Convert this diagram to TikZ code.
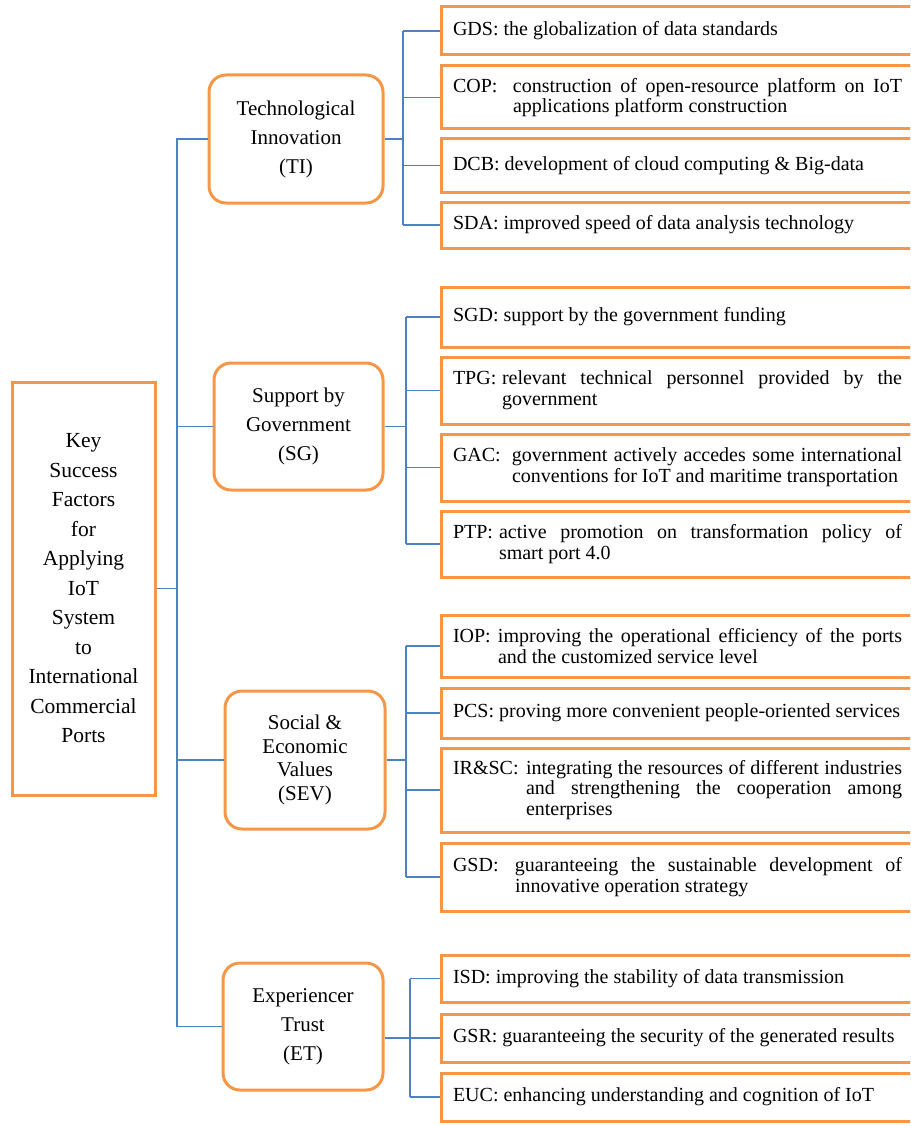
\documentclass[tikz,border=0pt]{standalone}
\usepackage{fontspec}
\setmainfont{Liberation Serif}
\usepackage{tikz}
\tolerance=10000
\hbadness=10000
\hyphenpenalty=10000
\exhyphenpenalty=10000

\definecolor{boxorange}{HTML}{F79646}
\definecolor{linkblue}{HTML}{4F81BD}

\tikzset{
  rootbox/.style={draw=boxorange, line width=3pt, align=center,
    font=\fontsize{21.5}{29.5}\selectfont},
  groupbox/.style={draw=boxorange, line width=3pt, rounded corners=17pt,
    align=center, font=\fontsize{21}{29}\selectfont},
  leafbox/.style={draw=boxorange, line width=3pt, anchor=west,
    text width=449pt, inner xsep=11.5pt, inner ysep=0pt, align=justify,
    font=\fontsize{20}{20.7}\selectfont},
  link/.style={draw=linkblue, line width=1.2pt}
}

% label with hanging indent for the wrapped lines
\newcommand{\kfhang}[3]{\hangindent=#2\hangafter=1\noindent\makebox[#2][l]{#1:}#3\par}

\begin{document}
\begin{tikzpicture}[x=1pt,y=-1pt]
\useasboundingbox (0,0) rectangle (910,1126);
\clip (0,0) rectangle (910,1126);

\node[rootbox, minimum width=143pt, minimum height=413pt] (KSF) at (83.5,588.5)
  {Key\\Success\\Factors\\for\\Applying\\IoT\\System\\to\\International\\Commercial\\Ports};

\node[groupbox, minimum width=174pt, minimum height=128pt] (TI) at (296,139) {Technological\\Innovation\\(TI)};
\node[groupbox, minimum width=169pt, minimum height=127pt] (SG) at (298.5,426.5) {Support by\\Government\\(SG)};
\node[groupbox, minimum width=160pt, minimum height=138pt, font=\fontsize{21}{23.5}\selectfont] (SEV) at (305,760) {Social \&\\Economic\\Values\\(SEV)};
\node[groupbox, minimum width=160pt, minimum height=127pt] (ET) at (303,1026.5) {Experiencer\\Trust\\(ET)};

% TI
\node[leafbox, minimum height=48pt] (GDS) at (440,31) {GDS: the globalization of data standards};
\node[leafbox, minimum height=63pt] (COP) at (440,97.5) {\kfhang{COP}{60pt}{construction of open-resource platform on IoT\linebreak applications platform construction}};
\node[leafbox, minimum height=53pt] (DCB) at (440,165.5) {DCB: development of cloud computing \& Big-data};
\node[leafbox, minimum height=46pt] (SDA) at (440,225) {SDA: improved speed of data analysis technology};
% SG
\node[leafbox, minimum height=60pt] (SGD) at (440,317) {SGD: support by the government funding};
\node[leafbox, minimum height=67pt] (TPG) at (440,390.5) {\kfhang{TPG}{49pt}{relevant technical personnel provided by the\linebreak government}};
\node[leafbox, minimum height=67pt] (GAC) at (440,467.5) {\kfhang{GAC}{59pt}{government actively accedes some international\linebreak conventions for IoT and maritime transportation}};
\node[leafbox, minimum height=66pt] (PTP) at (440,544) {\kfhang{PTP}{46pt}{active promotion on transformation policy of\linebreak smart port 4.0}};
% SEV
\node[leafbox, minimum height=62pt] (IOP) at (440,646) {\kfhang{IOP}{45pt}{improving the operational efficiency of the ports\linebreak and the customized service level}};
\node[leafbox, minimum height=50pt] (PCS) at (440,713) {PCS: proving more convenient people-oriented services};
\node[leafbox, minimum height=84pt] (IRSC) at (440,790) {\kfhang{IR\&SC}{73pt}{integrating the resources of different industries\linebreak and strengthening the cooperation among\linebreak enterprises}};
\node[leafbox, minimum height=68pt] (GSD) at (440,877) {\kfhang{GSD}{62pt}{guaranteeing the sustainable development of\linebreak innovative operation strategy}};
% ET
\node[leafbox, minimum height=47pt] (ISD) at (440,978.5) {ISD: improving the stability of data transmission};
\node[leafbox, minimum height=48pt] (GSR) at (440,1038) {GSR: guaranteeing the security of the generated results};
\node[leafbox, minimum height=48pt] (EUC) at (440,1097) {EUC: enhancing understanding and cognition of IoT};

\coordinate (trunk) at (177,0);
\coordinate (busTI) at (403,0);
\coordinate (busSG) at (406,0);
\coordinate (busSEV) at (406,0);
\coordinate (busET) at (410,0);

\draw[link] (KSF.east) -- (KSF.east -| trunk);
\draw[link] (TI.west) -- (TI.west -| trunk) -- (ET.west -| trunk) -- (ET.west);
\draw[link] (SG.west) -- (SG.west -| trunk);
\draw[link] (SEV.west) -- (SEV.west -| trunk);

\draw[link] (TI.east) -- (TI.east -| busTI) (GDS.west -| busTI) -- (SDA.west -| busTI)
  (GDS.west -| busTI) -- (GDS.west) (COP.west -| busTI) -- (COP.west)
  (DCB.west -| busTI) -- (DCB.west) (SDA.west -| busTI) -- (SDA.west);
\draw[link] (SG.east) -- (SG.east -| busSG) (SGD.west -| busSG) -- (PTP.west -| busSG)
  (SGD.west -| busSG) -- (SGD.west) (TPG.west -| busSG) -- (TPG.west)
  (GAC.west -| busSG) -- (GAC.west) (PTP.west -| busSG) -- (PTP.west);
\draw[link] (SEV.east) -- (SEV.east -| busSEV) (IOP.west -| busSEV) -- (GSD.west -| busSEV)
  (IOP.west -| busSEV) -- (IOP.west) (PCS.west -| busSEV) -- (PCS.west)
  (IRSC.west -| busSEV) -- (IRSC.west) (GSD.west -| busSEV) -- (GSD.west);
\draw[link] (ET.east |- GSR.west) -- (GSR.west) (ISD.west -| busET) -- (EUC.west -| busET)
  (ISD.west -| busET) -- (ISD.west) (EUC.west -| busET) -- (EUC.west);
\end{tikzpicture}
\end{document}
